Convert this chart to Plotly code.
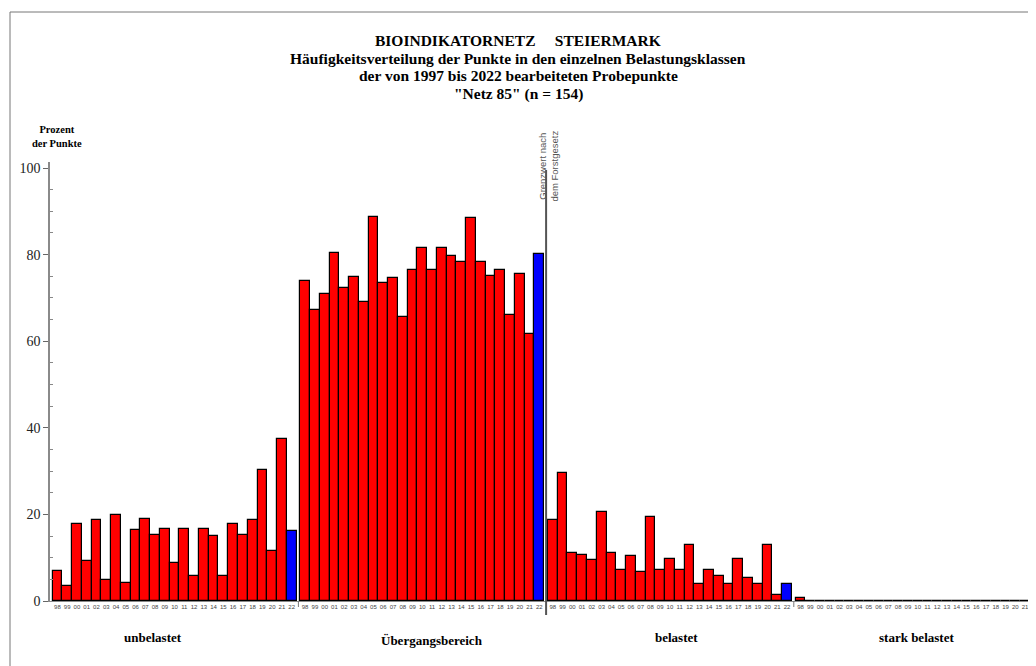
import plotly.graph_objects as go

years = ["98", "99", "00", "01", "02", "03", "04", "05", "06", "07", "08", "09",
         "10", "11", "12", "13", "14", "15", "16", "17", "18", "19", "20", "21", "22"]
classes = ["unbelastet", "Übergangsbereich", "belastet", "stark belastet"]

unbelastet = [6.9, 3.5, 17.8, 9.2, 18.7, 4.8, 19.8, 4.2, 16.5, 18.9, 15.3, 16.7, 8.8,
              16.7, 5.7, 16.7, 14.9, 5.7, 17.8, 15.3, 18.7, 30.3, 11.5, 37.4, 16.2]
uebergang = [74.0, 67.2, 71.0, 80.4, 72.4, 74.8, 69.1, 88.6, 73.5, 74.5, 65.5, 76.4, 81.5,
             76.4, 81.5, 79.6, 78.2, 88.4, 78.4, 75.1, 76.4, 66.1, 75.6, 61.6, 80.1]
belastet = [18.7, 29.5, 11.2, 10.6, 9.4, 20.6, 11.2, 7.1, 10.3, 6.8, 19.4, 7.1, 9.8,
            7.1, 12.9, 3.9, 7.2, 5.8, 3.9, 9.8, 5.2, 3.9, 12.9, 1.5, 3.9]
stark = [0.6, 0, 0, 0, 0, 0, 0, 0, 0, 0, 0, 0, 0,
         0, 0, 0, 0, 0, 0, 0, 0, 0, 0, 0, 0]
series = [unbelastet, uebergang, belastet, stark]

title_lines = [
    "BIOINDIKATORNETZ &nbsp;&nbsp;&nbsp; STEIERMARK",
    "Häufigkeitsverteilung der Punkte in den einzelnen Belastungsklassen",
    "der von 1997 bis 2022 bearbeiteten Probepunkte",
    "\"Netz 85\" (n = 154)",
]

# layout geometry (screen pixels; page body has an 8px margin)
OFF = 8
W, H = 1036, 666
SCR_LEFT, SCR_TOP, SCR_BOTTOM = 50, 162, 601
ML = SCR_LEFT - OFF
MT = SCR_TOP - OFF
MB = H - (SCR_BOTTOM - OFF)
MR = 0
PW, PH = W - ML - MR, H - MT - MB
PX_PER_BAR = 9.76
GROUP_STEP = 25.38
X0 = -0.76
X1 = X0 + PW / PX_PER_BAR
Y_MAX = PH / 4.33


def px_to_paper_x(sx):
    return (sx - OFF - ML) / PW


def px_to_paper_y(sy):
    return (H - MB - (sy - OFF)) / PH


def data_to_px(x):
    return SCR_LEFT + (x - X0) * PX_PER_BAR


fig = go.Figure()
for g, vals in enumerate(series):
    xs = [g * GROUP_STEP + i for i in range(len(years))]
    colors = ["#ff0000"] * (len(years) - 1) + ["#0000ff"]
    fig.add_trace(go.Bar(
        x=xs, y=vals, width=1.0,
        marker=dict(color=colors, line=dict(color="#000000", width=1.2)),
        name=classes[g], showlegend=False,
        hovertext=[f"{classes[g]} {y}: {v}" for y, v in zip(years, vals)],
        hoverinfo="text",
    ))

tickvals = []
ticktext = []
for g in range(len(series)):
    for i, y in enumerate(years):
        tickvals.append(g * GROUP_STEP + i)
        ticktext.append(y)

fig.update_layout(
    width=W, height=H,
    margin=dict(l=ML, r=MR, t=MT, b=MB),
    paper_bgcolor="white", plot_bgcolor="white",
    bargap=0,
    xaxis=dict(
        range=[X0, X1], showgrid=False, zeroline=False,
        showline=True, linecolor="#8a8a8a", linewidth=1.2,
        tickmode="array", tickvals=tickvals, ticktext=ticktext,
        ticks="", tickangle=0,
        tickfont=dict(family="Liberation Sans", size=6, color="#444444"),
    ),
    yaxis=dict(
        range=[0, Y_MAX], showgrid=False, zeroline=False,
        showline=True, linecolor="#8a8a8a", linewidth=1.5,
        tickmode="array", tickvals=[0, 20, 40, 60, 80, 100],
        ticks="outside", ticklen=5, tickcolor="#666666",
        minor=dict(tickmode="array", tickvals=[5, 10, 15, 25, 30, 35, 45, 50, 55, 65, 70, 75, 85, 90, 95],
                   ticks="inside", ticklen=3, tickcolor="#888888"),
        tickfont=dict(family="Liberation Serif", size=14, color="#222222"),
    ),
)

# title lines
for k, line in enumerate(title_lines):
    fig.add_annotation(xref="paper", yref="paper", x=px_to_paper_x(518), y=px_to_paper_y(40 + 18 * k),
                       xanchor="center", yanchor="middle", text=line, showarrow=False,
                       font=dict(family="Liberation Serif", size=15.5, color="#000000", weight="bold"))

# outer frame
fig.add_shape(type="rect", xref="paper", yref="paper",
              x0=px_to_paper_x(10), x1=px_to_paper_x(1080),
              y0=px_to_paper_y(720), y1=px_to_paper_y(12),
              line=dict(color="#777777", width=1), fillcolor="rgba(0,0,0,0)", layer="below")

# group separators and limit line
for g in range(1, len(series)):
    sep = ((g - 1) * GROUP_STEP + 24.5 + g * GROUP_STEP - 0.5) / 2
    px = data_to_px(sep)
    if g == 2:
        fig.add_shape(type="line", xref="paper", yref="paper",
                      x0=px_to_paper_x(px), x1=px_to_paper_x(px),
                      y0=px_to_paper_y(615), y1=px_to_paper_y(170),
                      line=dict(color="#555555", width=2))
        fig.add_annotation(xref="paper", yref="paper",
                           x=px_to_paper_x(px + 2), y=px_to_paper_y(204),
                           xanchor="center", yanchor="bottom", textangle=-90,
                           text="Grenzwert nach<br>dem Forstgesetz", showarrow=False,
                           font=dict(family="Liberation Sans", size=9.5, color="#555555"))
    else:
        fig.add_shape(type="line", xref="paper", yref="paper",
                      x0=px_to_paper_x(px), x1=px_to_paper_x(px),
                      y0=px_to_paper_y(607), y1=px_to_paper_y(601),
                      line=dict(color="#777777", width=1))

# class labels
label_pos = [(153, 637), (432, 640), (676, 637), (916, 637)]
for name, (px, py) in zip(classes, label_pos):
    fig.add_annotation(xref="paper", yref="paper", x=px_to_paper_x(px), y=px_to_paper_y(py),
                       xanchor="center", yanchor="middle", text=name, showarrow=False,
                       font=dict(family="Liberation Serif", size=13, color="#000000", weight="bold"))

fig.add_annotation(xref="paper", yref="paper", x=px_to_paper_x(57), y=px_to_paper_y(137),
                   xanchor="center", yanchor="middle", text="Prozent<br>der Punkte",
                   showarrow=False,
                   font=dict(family="Liberation Serif", size=10.5, color="#000000", weight="bold"))

fig.write_html("out.html")
